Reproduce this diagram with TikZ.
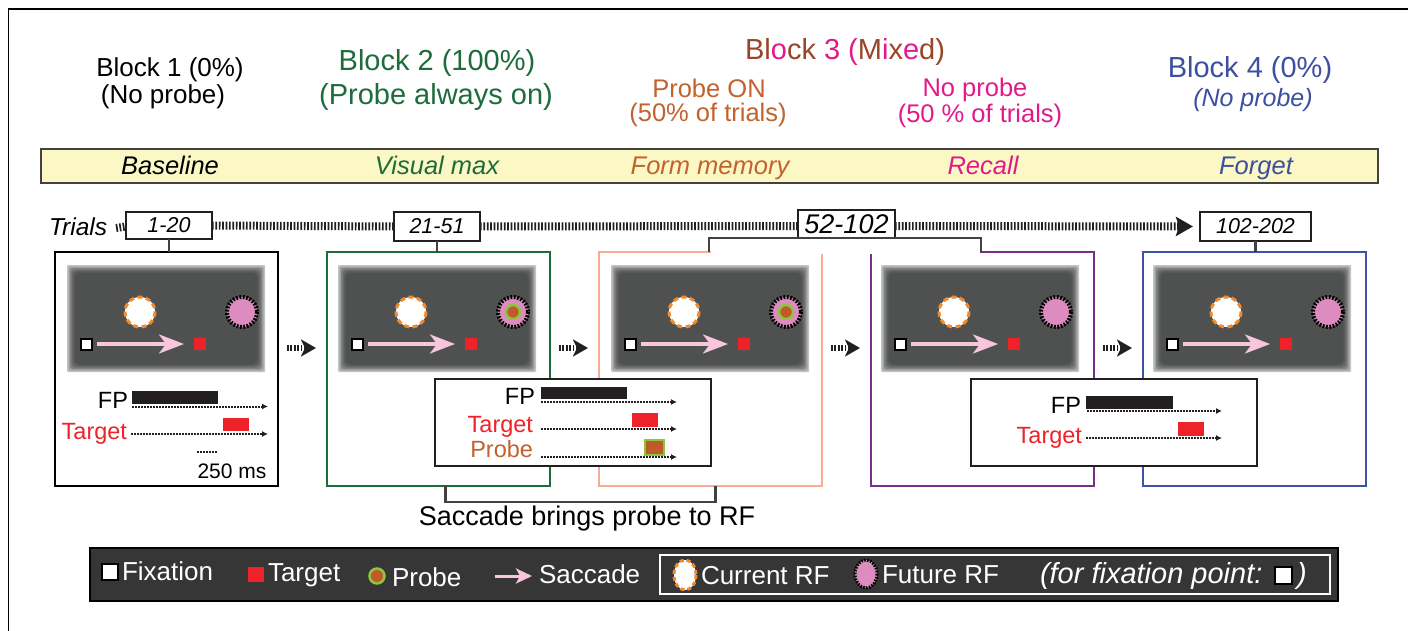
\documentclass[tikz,border=0pt]{standalone}
\usepackage{fontspec}
\setmainfont{Liberation Sans}
\usetikzlibrary{arrows.meta,calc}
\definecolor{bgreen}{HTML}{1E6B3C}
\definecolor{borange}{HTML}{C2622D}
\definecolor{bmag}{HTML}{E3198B}
\definecolor{bbrown}{HTML}{9A4527}
\definecolor{bblue}{HTML}{3C4FA0}
\definecolor{fsalmon}{HTML}{F7AC95}
\definecolor{fpurple}{HTML}{7B2D8B}
\definecolor{fblue}{HTML}{3B53A9}
\definecolor{ybar}{HTML}{FBF8C6}
\definecolor{dk}{HTML}{231F20}
\definecolor{scr}{HTML}{4F5050}
\definecolor{rfpink}{HTML}{DD8CBF}
\definecolor{rforange}{HTML}{F08A2A}
\definecolor{tred}{HTML}{EE2229}
\definecolor{pgreen}{HTML}{8CC63F}
\definecolor{pbrown}{HTML}{C05A28}
\definecolor{sacc}{HTML}{F7C6DC}
\definecolor{legbg}{HTML}{363636}
\newcommand\fsz[1]{\fontsize{#1}{#1}\selectfont}
\tikzset{
 every node/.style={inner sep=0pt,outer sep=0pt},
 frm/.style={draw,line width=2.5pt,minimum width=223pt,minimum height=234pt,anchor=north west},
 trialbox/.style={draw=dk,line width=2pt,fill=white,font=\fsz{21.5}\itshape},
 ladder/.style={draw=dk,line width=8pt,dash pattern=on 1.7pt off 1.7pt},
 trans/.style={draw=dk,line width=6pt,dash pattern=on 1.8pt off 1.6pt,-{Stealth[length=15pt,width=17pt,inset=4pt]}},
 conn/.style={draw=dk!85!white,line width=2.5pt},
 dotarr/.style={draw=dk,line width=2pt,dash pattern=on 1.5pt off 1.5pt,-{Latex[length=6pt,width=6pt]}},
 rfcur/.style={fill=white,draw=rforange,line width=3pt,dash pattern=on 5pt off 3.5pt},
 rffut/.style={fill=rfpink,draw=black,line width=4pt,dash pattern=on 1.8pt off 1.6pt},
 fixsq/.style={fill=white,draw=black,line width=2pt},
 saccarr/.style={draw=sacc,line width=3.5pt,-{Stealth[length=25pt,width=19pt,inset=7pt]}},
 probe/.style={fill=pbrown,draw=pgreen,line width=2.5pt},
 panel/.style={draw=dk,line width=2.5pt,fill=white,anchor=north west},
 tl/.style={font=\fsz{23.5}},
 ph/.style={font=\fsz{25.5}\itshape,anchor=base},
 lg/.style={font=\fsz{26},text=white,anchor=west},
 scrn/.pic={
   \foreach \p/\dd/\rr in {35/0/1,55/1.5/2,72/3/3,85/4.5/4,94/6/5,100/7.5/6}
     \fill[scr!\p!white,rounded corners=\rr pt] (\dd,\dd) rectangle (198-\dd,107-\dd);
   \draw[rfcur] (73,47) circle[radius=15];
   \draw[rffut] (175,47) circle[radius=15];
   \draw[fixsq] (13.5,73.5) rectangle (24.5,84.5);
   \draw[saccarr] (30,79) -- (117,79);
   \fill[tred] (127,73) rectangle (139,85);
 }
}
\begin{document}
\begin{tikzpicture}[x=1pt,y=-1pt]
\useasboundingbox (0,0) rectangle (1408,631);
\fill[white] (0,0) rectangle (1408,631);
\draw[line width=1.2pt] (8.5,631) -- (8.5,9) -- (1408,9);

% headers
\node[font=\fsz{26}] (h1a) at (170,70) {Block 1 (0\%)};
\node[font=\fsz{26}] (h1b) at (163,97) {(No probe)};
\node[font=\fsz{29},text=bgreen] (h2a) at (437,63) {Block 2 (100\%)};
\node[font=\fsz{29},text=bgreen] (h2b) at (436,97) {(Probe always on)};
\node[font=\fsz{29}] (h3) at (845,52) {\textcolor{bbrown}{Bl}\textcolor{bmag}{o}\textcolor{bbrown}{ck}~\textcolor{bmag}{3~(}\textcolor{bbrown}{M}\textcolor{bmag}{i}\textcolor{bbrown}{x}\textcolor{bmag}{e}\textcolor{bbrown}{d)}};
\node[font=\fsz{25.5},text=borange] (h3a) at (709,88) {Probe ON};
\node[font=\fsz{25.5},text=borange] (h3b) at (708,115) {(50\% of trials)};
\node[font=\fsz{25.5},text=bmag] (h3c) at (975,90) {No probe};
\node[font=\fsz{25.5},text=bmag] (h3d) at (980,116) {(50 \% of trials)};
\node[font=\fsz{29},text=bblue] (h4a) at (1250,70) {Block 4 (0\%)};
\node[font=\fsz{25}\itshape,text=bblue] (h4b) at (1253,100) {(No probe)};

% yellow bar
\node[draw=dk!85!white,line width=2.5pt,fill=ybar,minimum width=1337pt,minimum height=34pt,anchor=north west] (ybar) at (41,149) {};
\node[ph] (ph1) at (170,175) {Baseline};
\node[ph,text=bgreen] (ph2) at (437,175) {Visual max};
\node[ph,text=borange] (ph3) at (710,175) {Form memory};
\node[ph,text=bmag] (ph4) at (983,175) {Recall};
\node[ph,text=bblue] (ph5) at (1256,175) {Forget};

% frames
\node[frm,draw=black] (f1) at (55,252) {};
\node[frm,draw=bgreen] (f2) at (327,252) {};
\node[frm,draw=fsalmon] (f3) at (599,252) {};
\node[frm,draw=fpurple] (f4) at (871,252) {};
\node[frm,draw=fblue] (f5) at (1143,252) {};
\fill[white] (710.5,239) rectangle (979.5,254);

% trials row
\node[font=\fsz{24.5}\itshape,anchor=west] (trials) at (49,227) {Trials};
\node[trialbox,minimum width=86pt,minimum height=27pt] (t1) at (169,225.5) {1-20};
\node[trialbox,minimum width=86pt,minimum height=29pt] (t2) at (437,226.5) {21-51};
\node[trialbox,minimum width=97pt,minimum height=28pt,font=\fsz{27}\itshape] (t3) at (846.5,224) {52-102};
\node[trialbox,minimum width=111pt,minimum height=29pt] (t4) at (1255.5,226.5) {102-202};
\draw[ladder] ([xshift=9pt,yshift=-1pt]trials.east) -- ([yshift=-1pt]t1.west);
\draw[ladder] (t1.east) -- (t2.west);
\draw[ladder] (t2.east) -- ([yshift=-2pt]t3.west);
\draw[ladder,-{Stealth[length=17pt,width=19pt,inset=3pt]},shorten >=7pt] ([yshift=-2pt]t3.east) -- (t4.west);
\draw[conn] (t1.south) -- (t1.south |- f1.north);
\draw[conn] (t2.south) -- (t2.south |- f2.north);
\draw[conn] (t4.south) -- (t4.south |- f5.north);
\coordinate (b3l) at (709,238);
\coordinate (b3r) at (981,238);
\draw[conn] (b3l |- f3.north) -- (b3l) -- (b3r) -- (b3r |- f4.north);

% screens
\pic at (67,265) {scrn};
\pic at (338,265) {scrn};
\pic at (611,265) {scrn};
\pic at (881,265) {scrn};
\pic at (1153,265) {scrn};
\draw[probe] (513,312) circle[radius=7];
\draw[probe] (786,312) circle[radius=7];

% transitions
\draw[trans] ([xshift=9pt,yshift=21pt]f1.east) -- ([xshift=-11pt,yshift=21pt]f2.west);
\draw[trans] ([xshift=9pt,yshift=21pt]f2.east) -- ([xshift=-11pt,yshift=21pt]f3.west);
\draw[trans] ([xshift=9pt,yshift=21pt]f3.east) -- ([xshift=-11pt,yshift=21pt]f4.west);
\draw[trans] ([xshift=9pt,yshift=21pt]f4.east) -- ([xshift=-11pt,yshift=21pt]f5.west);

% block 1 timing
\node[tl,anchor=base east] (fp1) at (128,408) {FP};
\fill[dk] (132,391) rectangle (218,404);
\coordinate (fp1s) at (132,406.5); \coordinate (fp1e) at (268,406.5);
\draw[dotarr] (fp1s) -- (fp1e);
\node[tl,anchor=base east,text=tred] (tg1) at (127,439) {Target};
\fill[tred] (223,418) rectangle (249,431);
\coordinate (tg1s) at (131,434); \coordinate (tg1e) at (268,434);
\draw[dotarr] (tg1s) -- (tg1e);
\coordinate (sc1) at (197,452); \coordinate (sc2) at (218,452);
\draw[draw=dk,line width=2pt,dash pattern=on 1.5pt off 1.5pt] (sc1) -- (sc2);
\node[font=\fsz{21},anchor=base] (ms) at (232,478) {250 ms};

% block 2/3 panel
\node[panel,minimum width=276pt,minimum height=87pt] (p2) at (435,379) {};
\node[tl,anchor=base east] (fp2) at (535,404) {FP};
\fill[dk] (541,387) rectangle (627,399);
\coordinate (fp2s) at (541,402); \coordinate (fp2e) at (677,402);
\draw[dotarr] (fp2s) -- (fp2e);
\node[tl,anchor=base east,text=tred] (tg2) at (533,432) {Target};
\fill[tred] (632,413) rectangle (658,427);
\coordinate (tg2s) at (541,429); \coordinate (tg2e) at (677,429);
\draw[dotarr] (tg2s) -- (tg2e);
\node[tl,anchor=base east,text=borange] (pr2) at (533,457) {Probe};
\coordinate (pr2s) at (541,457); \coordinate (pr2e) at (677,457);
\draw[dotarr] (pr2s) -- (pr2e);
\draw[fill=pbrown,draw=pgreen,line width=2.5pt] (645,440) rectangle (664,455);

% block 3b/4 panel
\node[panel,minimum width=286pt,minimum height=87pt] (p4) at (971,379) {};
\node[tl,anchor=base east] (fp4) at (1081,413) {FP};
\fill[dk] (1086,396) rectangle (1173,409);
\coordinate (fp4s) at (1087,411); \coordinate (fp4e) at (1222,411);
\draw[dotarr] (fp4s) -- (fp4e);
\node[tl,anchor=base east,text=tred] (tg4) at (1082,443) {Target};
\fill[tred] (1178,422) rectangle (1204,436);
\coordinate (tg4s) at (1086,438); \coordinate (tg4e) at (1222,438);
\draw[dotarr] (tg4s) -- (tg4e);

% bracket
\draw[conn] ([xshift=7pt]f2.south) -- ++(0,16) -| ([xshift=5pt]f3.south);
\node[font=\fsz{27}] (capt) at (587,519) {Saccade brings probe to RF};

% legend
\node[draw=black,line width=2pt,fill=legbg,minimum width=1248pt,minimum height=53pt,anchor=north west] (leg) at (90,548) {};
\node[draw=white,line width=2pt,minimum width=670pt,minimum height=39pt,anchor=north west] (legin) at (660,555) {};
\draw[fixsq] (102,564) rectangle (118,580);
\node[lg] (l1) at (122,571) {Fixation};
\fill[tred] (248,567) rectangle (264,582);
\node[lg] (l2) at (268,575) {Target};
\draw[probe] (377,576) circle[radius=7.5];
\node[lg] (l3) at (392,577) {Probe};
\coordinate (la1) at (495,576); \coordinate (la2) at (532,576);
\draw[draw=sacc,line width=3pt,-{Stealth[length=16pt,width=15pt,inset=4pt]}] (la1) -- (la2);
\node[lg] (l4) at (539,574) {Saccade};
\draw[fill=white,draw=rforange,line width=3pt,dash pattern=on 4pt off 3pt] (685,575) ellipse[x radius=11,y radius=15];
\node[lg] (l5) at (701,576) {Current RF};
\draw[fill=rfpink,draw=black,line width=3pt,dash pattern=on 1.6pt off 1.4pt] (866,574) ellipse[x radius=11,y radius=14];
\node[lg] (l6) at (882,575) {Future RF};
\node[lg,font=\fsz{29}\itshape] (l7) at (1040,576) {(for fixation point:};
\draw[fill=white,draw=black,line width=2pt] (1275,567) rectangle (1292,584);
\node[lg,font=\fsz{29}\itshape] (l8) at (1297,576) {)};
\end{tikzpicture}
\end{document}
